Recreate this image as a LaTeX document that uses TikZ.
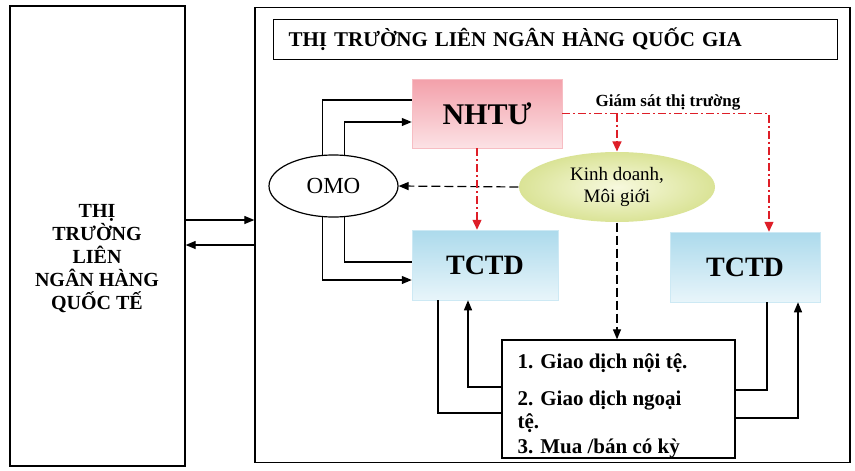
\documentclass[tikz,border=0pt]{standalone}
\usepackage{fontspec}
\setmainfont{Liberation Serif}
\usetikzlibrary{shapes.geometric,arrows.meta,shadings}
\definecolor{redline}{RGB}{222,30,40}
\definecolor{pinktop}{RGB}{243,160,170}
\definecolor{pinkbot}{RGB}{252,226,229}
\definecolor{bluetop}{RGB}{172,218,236}
\definecolor{bluebot}{RGB}{232,245,250}
\definecolor{kdin}{RGB}{247,249,222}
\definecolor{kdout}{RGB}{218,227,150}
\begin{document}
\begin{tikzpicture}[x=1pt,y=-1pt,line width=1.2pt,
  box/.style={draw,line width=1.3pt,inner sep=0pt},
  arr/.style={-{Triangle[length=10pt,width=8pt]}},
  reddash/.style={draw=redline,line width=1.3pt,dash pattern=on 8pt off 3pt on 2pt off 3pt},
  redtip/.style={-{Triangle[length=10pt,width=9pt]}},
  blkdash/.style={dash pattern=on 9pt off 4pt},
  pinkbox/.style={draw=pinktop!70,line width=0.5pt,top color=pinktop,bottom color=pinkbot,
     minimum width=150,minimum height=69,inner sep=0pt,font=\bfseries\fontsize{30}{30}\selectfont},
  bluebox/.style={draw=bluetop!60,line width=0.5pt,top color=bluetop,bottom color=bluebot,
     minimum height=70,inner sep=0pt,font=\bfseries\fontsize{28}{28}\selectfont},
  gdline/.style={anchor=base west,inner sep=0pt,font=\bfseries\fontsize{21}{21}\selectfont}]
\useasboundingbox (0,0) rectangle (855,471);
\fill[white] (0,0) rectangle (855,471);

% helper levels
\coordinate (h100) at (0,100);
\coordinate (h122) at (0,122);
\coordinate (h262) at (0,262);
\coordinate (h280) at (0,280);
\coordinate (h220) at (0,220);
\coordinate (h245) at (0,245);
\coordinate (h387) at (0,387);
\coordinate (h413) at (0,413);
\coordinate (h390) at (0,390);
\coordinate (h418) at (0,418);
\coordinate (v438) at (438,0);
\coordinate (v468) at (468,0);
\coordinate (v767) at (767,0);
\coordinate (v798) at (798,0);
\coordinate (v477) at (477,0);
\coordinate (v769) at (769,0);

% left box
\node[box,minimum width=175,minimum height=460] (intl) at (97.5,236) {};
\node[font=\bfseries\fontsize{20}{23}\selectfont,align=center] (intltxt) at (97,259)
  {THỊ\\TRƯỜNG\\LIÊN\\NGÂN HÀNG\\QUỐC TẾ};

% national market box
\node[box,minimum width=595,minimum height=455] (dom) at (552.5,235) {};
\node[box,anchor=west,minimum width=564,minimum height=40,text width=534,inner xsep=15pt,
  align=left,font=\bfseries\fontsize{21}{24}\selectfont] (title) at (273,39.5)
  {THỊ TRƯỜNG LIÊN NGÂN HÀNG QUỐC GIA};

\node[pinkbox] (nhtu) at (487,113.5) {NHTƯ};
\node[bluebox,minimum width=146] (tc1) at (485,265) {TCTD};
\node[bluebox,minimum width=150] (tc2) at (745,267) {TCTD};
\node[draw,ellipse,fill=white,minimum width=129,minimum height=62,inner sep=0pt,
  font=\fontsize{23}{23}\selectfont] (omo) at (333.5,186) {OMO};
\node[ellipse,inner color=kdin,outer color=kdout,minimum width=196,minimum height=70,
  inner sep=0pt,align=center,font=\fontsize{19}{22}\selectfont] (kd) at (617,187)
  {Kinh doanh,\\Môi giới};

\node[box,minimum width=233,minimum height=118] (gd) at (618.5,399) {};
\node[gdline] (gd1) at (517,368) {1. Giao dịch nội tệ.};
\node[gdline] (gd2) at (517,405) {2. Giao dịch ngoại};
\node[gdline] (gd3) at (517,428) {tệ.};
\node[gdline] (gd4) at (517,453) {3. Mua /bán có kỳ};

\node[font=\bfseries\fontsize{17}{17}\selectfont] (gs) at (668,102) {Giám sát thị trường};

% connectors
\draw[arr] (intl.east |- h220) -- (dom.west |- h220);
\draw[arr] (dom.west |- h245) -- (intl.east |- h245);

\draw (omo.110) |- (nhtu.west |- h100);
\draw[arr] (omo.70) |- (nhtu.west |- h122);
\draw (omo.290) |- (tc1.west |- h262);
\draw[arr] (omo.250) |- (tc1.west |- h280);

\draw[blkdash,arr] (kd.west) -- (omo.east);
\draw[blkdash,arr] (kd.south) -- (gd.north -| kd.south);

\draw[reddash,redtip] (nhtu.south -| v477) -- (tc1.north -| v477);
\draw[reddash,redtip] (nhtu.east) -| (tc2.north -| v769);
\draw[reddash,redtip] (nhtu.east -| kd.north) -- (kd.north);

\draw (tc1.south -| v438) |- (gd.west |- h413);
\draw[arr] (gd.west |- h387) -| (tc1.south -| v468);
\draw (tc2.south -| v767) |- (gd.east |- h390);
\draw[arr] (gd.east |- h418) -| (tc2.south -| v798);
\end{tikzpicture}
\end{document}
